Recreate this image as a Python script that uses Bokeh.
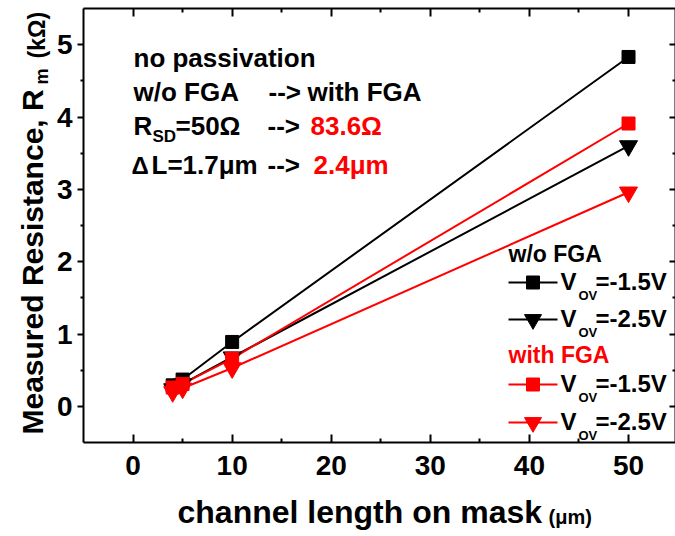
from bokeh.plotting import figure
from bokeh.models import Range1d, LinearAxis, Label, FixedTicker
from bokeh.embed import file_html
from bokeh.resources import INLINE

# Channel length on mask (um) and measured resistance R_m (kOhm)
length_um = [4, 5, 10, 50]
rm_noFGA_v15 = [0.29, 0.37, 0.89, 4.83]
rm_noFGA_v25 = [0.24, 0.31, 0.68, 3.60]
rm_FGA_v15 = [0.26, 0.31, 0.66, 3.91]
rm_FGA_v25 = [0.20, 0.25, 0.53, 2.96]

x_ticks = [0, 10, 20, 30, 40, 50]
x_minor = [5, 15, 25, 35, 45]
y_ticks = [0, 1, 2, 3, 4, 5]
y_minor = [0.5, 1.5, 2.5, 3.5, 4.5]

FONT = "Liberation Sans"
RED = "#ff0000"
W, H = 675, 536

# axis box (data limits) and where it sits on the canvas
X0, X1 = -5.0, 54.74
Y0, Y1 = -0.5, 5.5
BOX_L, BOX_T, BOX_R, BOX_B = 83, 8, 675, 442
kx = (BOX_R - BOX_L) / (X1 - X0)
ky = (BOX_B - BOX_T) / (Y1 - Y0)

p = figure(width=W, height=H,
           x_range=Range1d(X0 - BOX_L / kx, X1 + (W - BOX_R) / kx),
           y_range=Range1d(Y0 - (H - BOX_B) / ky, Y1 + BOX_T / ky),
           output_backend="svg", toolbar_location=None,
           min_border_left=0, min_border_right=0,
           min_border_top=0, min_border_bottom=0)
p.xgrid.visible = False
p.ygrid.visible = False
p.outline_line_color = None
p.background_fill_color = "white"
p.border_fill_color = "white"

# canvas-pixel ranges for annotation text and legend keys
p.extra_x_ranges = {"px": Range1d(0, W)}
p.extra_y_ranges = {"py": Range1d(H, 0)}


def style_axis(ax, ticks, minor, t_in, t_out, m_in, m_out, labels=True):
    ax.ticker = FixedTicker(ticks=ticks, minor_ticks=minor)
    ax.axis_line_width = 2
    ax.axis_line_color = "black"
    ax.major_tick_line_width = 2
    ax.minor_tick_line_width = 2
    ax.major_tick_in = t_in
    ax.major_tick_out = t_out
    ax.minor_tick_in = m_in
    ax.minor_tick_out = m_out
    ax.major_label_text_font = FONT
    ax.major_label_text_font_style = "bold"
    ax.major_label_text_color = "black"
    ax.major_label_text_font_size = "28px"
    if not labels:
        ax.major_label_overrides = {t: "" for t in ticks}
        ax.major_label_text_color = None
        ax.major_label_standoff = 0


xa = p.xaxis[0]
style_axis(xa, x_ticks, x_minor, 8, 0, 4, 0)
xa.fixed_location = Y0
xa.bounds = (X0, X1)
xa.major_label_standoff = 13

ya = p.yaxis[0]
style_axis(ya, y_ticks, y_minor, 0, 6, 0, 3)
ya.fixed_location = X0
ya.bounds = (Y0, Y1)
ya.major_label_standoff = 5

top_ax = LinearAxis(fixed_location=Y1, bounds=(X0, X1))
style_axis(top_ax, x_ticks, x_minor, 8, 0, 4, 0, labels=False)
p.add_layout(top_ax, "above")
right_ax = LinearAxis(fixed_location=X1, bounds=(Y0, Y1))
style_axis(right_ax, y_ticks, y_minor, 6, 0, 3, 0, labels=False)
p.add_layout(right_ax, "right")

# data series
series = [
    (rm_noFGA_v15, "black", "square", 13),
    (rm_noFGA_v25, "black", "inverted_triangle", 18),
    (rm_FGA_v15, RED, "square", 13),
    (rm_FGA_v25, RED, "inverted_triangle", 18),
]
for ys, col, mk, sz in series:
    p.line(length_um, ys, line_color=col, line_width=2)
for ys, col, mk, sz in series:
    p.scatter(length_um, ys, marker=mk, size=sz, fill_color=col, line_color=col)

ROT = 1.5707963
BASE_SHIFT = 0.38  # em offset between the anchor and the drawn baseline


def txt(x, y, s, size, color="black", angle=0.0, style="bold"):
    # (x, y) is the wanted start of the text baseline in canvas pixels
    if angle == 0.0:
        y = y - BASE_SHIFT * size
    else:
        x = x - BASE_SHIFT * size
    p.add_layout(Label(x=x, y=y, x_range_name="px", y_range_name="py",
                       text=s, text_font=FONT, text_font_size=f"{size}px",
                       text_font_style=style, text_color=color,
                       text_align="left", text_baseline="alphabetic",
                       angle=angle))


# annotation block
txt(133, 67, "no passivation", 26)
txt(133, 101, "w/o FGA", 26)
txt(268, 101, "-->", 26)
txt(307, 101, "with FGA", 26)
txt(133, 135, "R", 26)
txt(152, 142, "SD", 17)
txt(175, 135, "=50\u03a9", 26)
txt(267, 135, "-->", 26)
txt(310, 135, "83.6\u03a9", 26, RED)
txt(131, 174, "\u0394", 24)
txt(151, 174, "L=1.7\u03bcm", 26)
txt(267, 174, "-->", 26)
txt(313, 174, "2.4\u03bcm", 26, RED)

# legend
legend_groups = [
    ("w/o FGA", "black", 262, [(282, "square", 13, "-1.5V"), (319, "inverted_triangle", 17, "-2.5V")]),
    ("with FGA", RED, 363, [(384, "square", 13, "-1.5V"), (422, "inverted_triangle", 17, "-2.5V")]),
]
for title, col, ty, items in legend_groups:
    txt(508, ty, title, 23, col)
    for kyy, mk, sz, lab in items:
        p.line([508, 557], [kyy, kyy], line_color=col, line_width=2,
               x_range_name="px", y_range_name="py")
        p.scatter([532.5], [kyy], marker=mk, size=sz, fill_color=col, line_color=col,
                  x_range_name="px", y_range_name="py")
        txt(560, kyy + 8, "V", 24)
        txt(578, kyy + 18, "OV", 13)
        txt(595, kyy + 8, "=" + lab, 24)

# axis titles
txt(177, 524, "channel length on mask", 32)
txt(548, 524, "(\u03bcm)", 20)
txt(43, 434, "Measured Resistance, R", 30, angle=ROT)
txt(48, 84, "m", 18, angle=ROT)
txt(45, 58, "(k\u03a9)", 23, angle=ROT)

open("out.html", "w").write(file_html(p, INLINE))
